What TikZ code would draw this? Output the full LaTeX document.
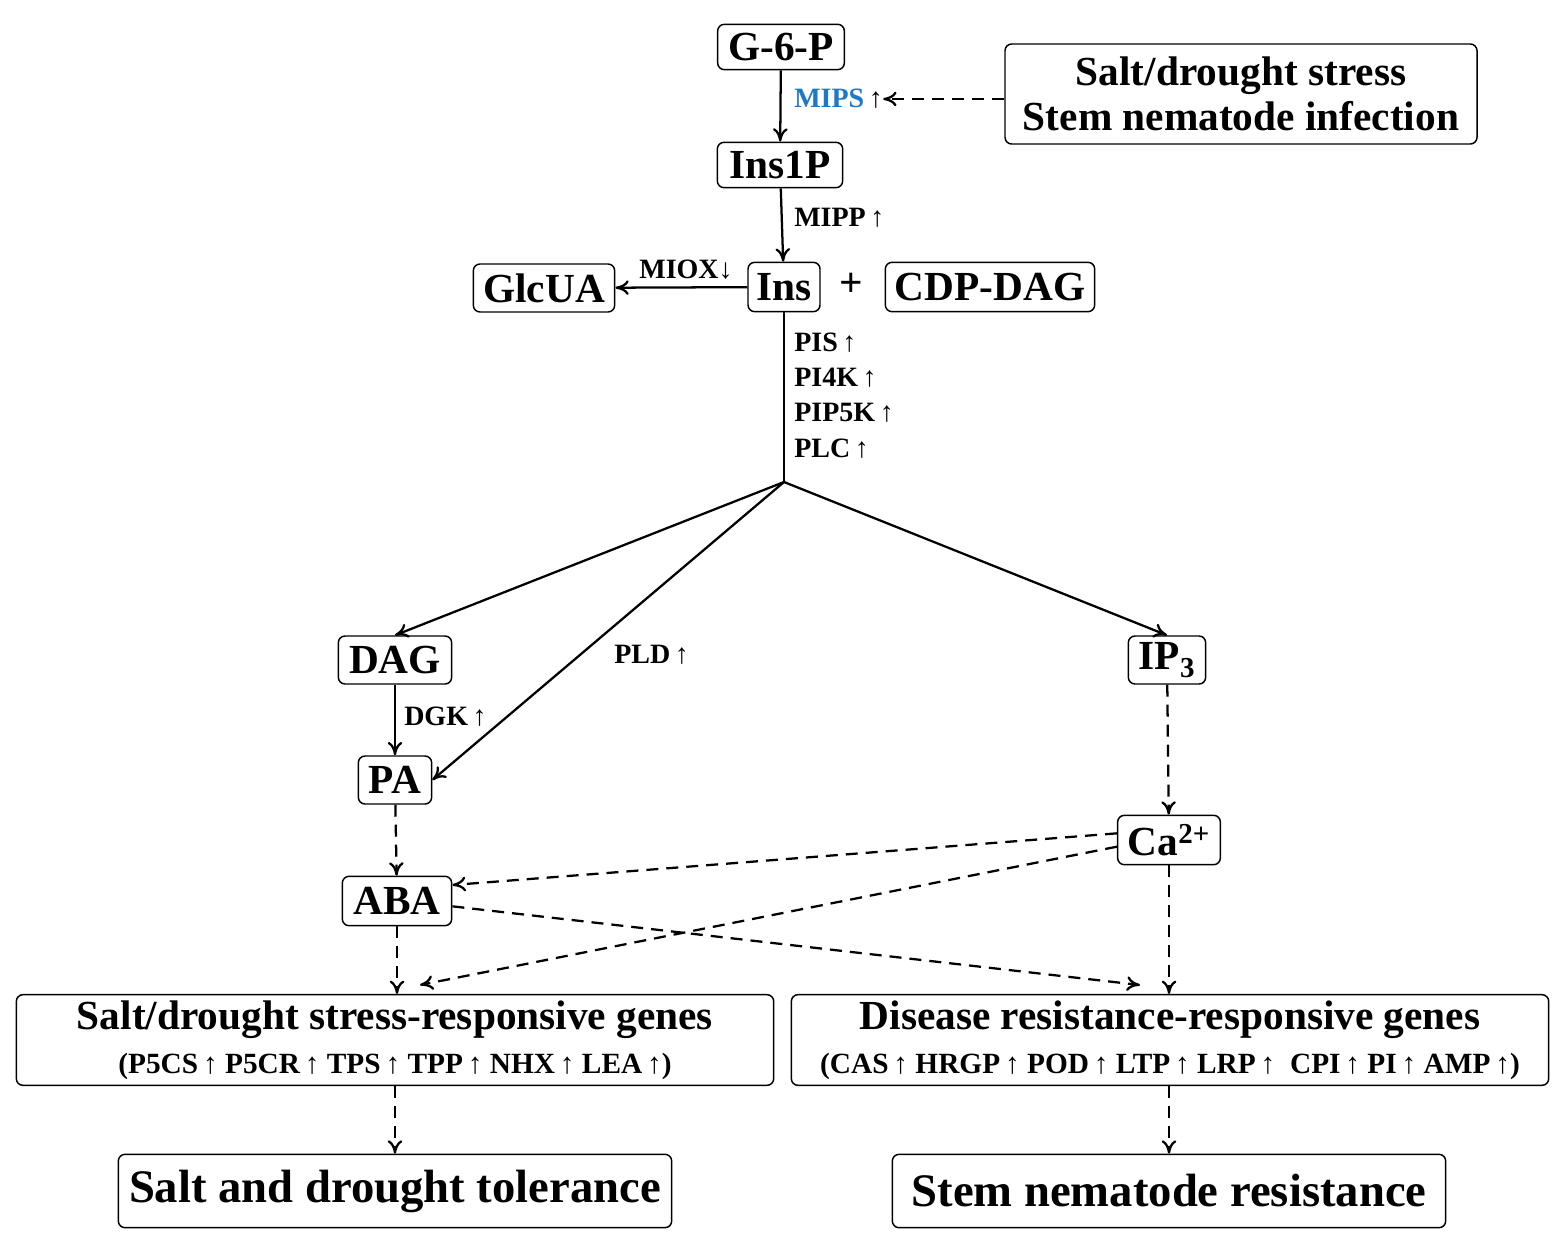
\documentclass[tikz,border=0pt]{standalone}
\usepackage{fontspec}
\setmainfont{Liberation Serif}
\usetikzlibrary{arrows.meta}
\begin{document}
\begin{tikzpicture}[x=0.75pt,y=-0.75pt,
  box/.style={draw,rounded corners=5pt,line width=1.1pt,font=\fontsize{31}{33}\selectfont\bfseries,inner sep=0pt},
  enz/.style={font=\fontsize{21}{23}\selectfont\bfseries,anchor=west,inner sep=0pt},
  arr/.style={line width=1.7pt,-{To[length=10pt,width=11pt]}},
  darr/.style={arr,dash pattern=on 9pt off 6pt}]
\useasboundingbox (0,0) rectangle (1566,1244);
\node[box,minimum width=95pt,minimum height=34pt] (g6p) at (781,47) {G-6-P};
\node[box,minimum width=354pt,minimum height=75pt,align=center,font=\fontsize{31}{34}\selectfont\bfseries] (stress) at (1241,94) {Salt/drought stress\\Stem nematode infection};
\node[box,minimum width=94pt,minimum height=34pt] (ins1p) at (780,165) {Ins1P};
\node[box,minimum width=54pt,minimum height=37pt] (ins) at (784,287) {Ins};
\node[box,minimum width=106pt,minimum height=36pt] (glc) at (544,288) {GlcUA};
\node[font=\fontsize{31}{33}\selectfont\bfseries] (plus) at (851,285) {+};
\node[box,minimum width=157pt,minimum height=37pt] (cdp) at (990,287) {CDP-DAG};
\node[box,minimum width=85pt,minimum height=36pt] (dag) at (395,660) {DAG};
\node[box,minimum width=58pt,minimum height=36pt] (ip3) at (1167,660) {IP\textsubscript{3}};
\node[box,minimum width=55pt,minimum height=36pt] (pa) at (395,780) {PA};
\node[box,minimum width=77pt,minimum height=37pt] (ca) at (1169,840) {Ca\textsuperscript{2+}};
\node[box,minimum width=82pt,minimum height=37pt] (aba) at (397,901) {ABA};
\node[box,minimum width=568pt,minimum height=68pt,align=center,font=\fontsize{31}{33}\selectfont\bfseries] (lg) at (395,1040) {Salt/drought stress-responsive genes\\{\fontsize{22}{24}\selectfont (P5CS\,↑ P5CR\,↑ TPS\,↑ TPP\,↑ NHX\,↑ LEA\,↑)}};
\node[box,minimum width=568pt,minimum height=68pt,align=center,font=\fontsize{31}{33}\selectfont\bfseries] (rg) at (1170,1040) {Disease resistance-responsive genes\\{\fontsize{22}{24}\selectfont (CAS\,↑ HRGP\,↑ POD\,↑ LTP\,↑ LRP\,↑ \ CPI\,↑ PI\,↑ AMP\,↑)}};
\node[box,minimum width=415pt,minimum height=55pt,font=\fontsize{35}{38}\selectfont\bfseries] (lt) at (395,1191) {Salt and drought tolerance};
\node[box,minimum width=415pt,minimum height=55pt,font=\fontsize{35}{38}\selectfont\bfseries] (rt) at (1169,1191) {Stem nematode resistance};
\coordinate (j) at (784,482);
\node[enz,text={rgb,255:red,30;green,120;blue,200}] (mips) at (794,99) {MIPS\textcolor{black}{\,↑}};
\node[enz] (mipp) at (794,218) {MIPP\,↑};
\node[enz,anchor=south] (miox) at (686,280) {MIOX↓};
\node[enz] (pis) at (794,343) {PIS\,↑};
\node[enz] (pi4k) at (794,378) {PI4K\,↑};
\node[enz] (pip5k) at (794,413) {PIP5K\,↑};
\node[enz] (plc) at (794,449) {PLC\,↑};
\node[enz] (pld) at (614,655) {PLD\,↑};
\node[enz] (dgk) at (404,717) {DGK\,↑};
\draw[arr] (g6p) -- (ins1p);
\draw[darr] (stress.west |- mips) -- (mips.east);
\draw[arr] (ins1p) -- (ins);
\draw[arr] (ins) -- (glc);
\draw[line width=1.7pt] (ins) -- (j);
\draw[arr] (j) -- (dag.north);
\draw[arr] (j) -- (ip3.north);
\draw[arr] (j) -- (pa.east);
\draw[arr] (dag) -- (pa);
\draw[darr] (pa) -- (aba);
\draw[darr] (ip3) -- (ca);
\draw[darr] ([yshift=5]ca.west) -- ([yshift=12]aba.east);
\draw[darr] ([yshift=-5]ca.west) -- (420,985);
\draw[darr] ([yshift=-4]aba.east) -- (1140,985);
\draw[darr] (aba) -- (aba |- lg.north);
\draw[darr] (ca) -- (ca |- rg.north);
\draw[darr] (lg) -- (lt);
\draw[darr] (rg.south -| rt) -- (rt);
\end{tikzpicture}
\end{document}
